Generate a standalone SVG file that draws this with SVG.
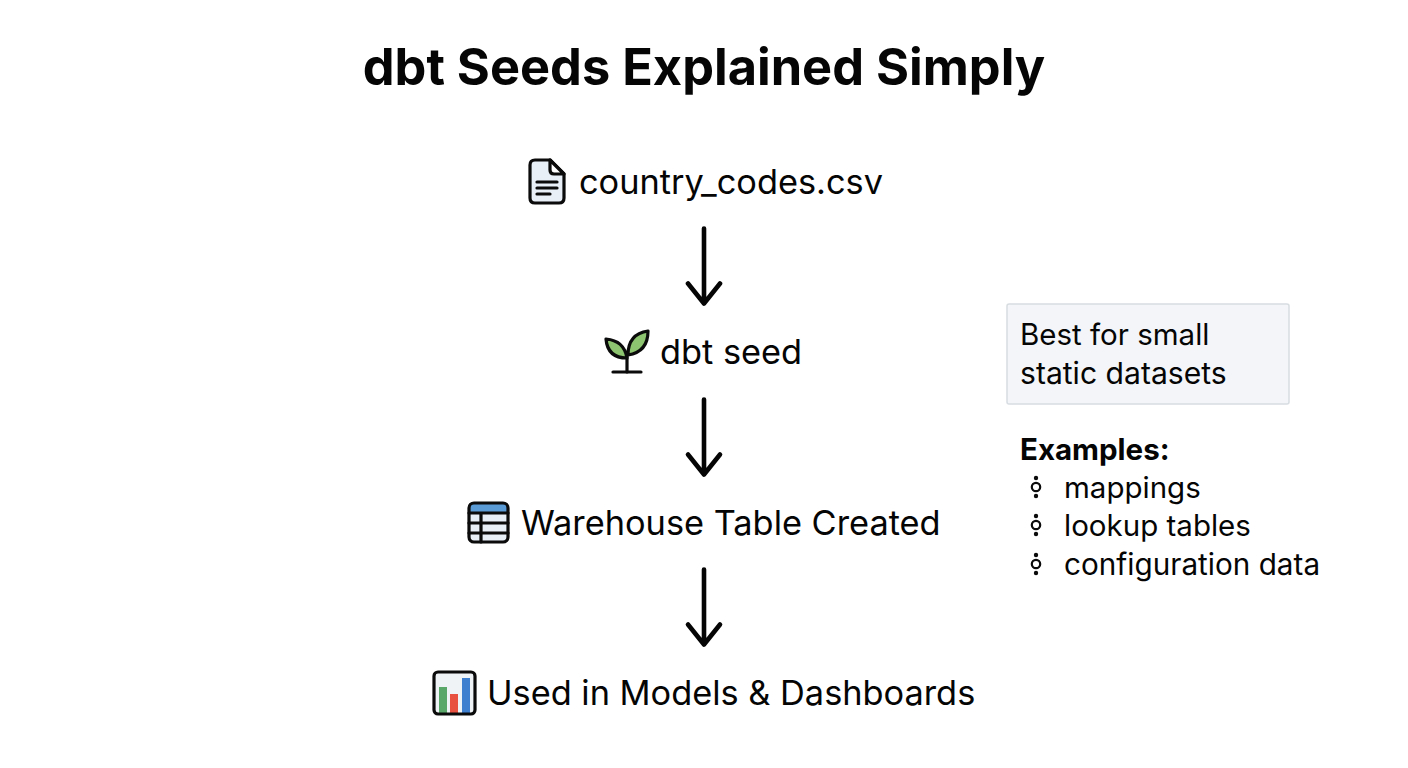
<svg xmlns="http://www.w3.org/2000/svg" width="1408" height="768" viewBox="0 0 1408 768">
<style>
text{font-family:Inter,"Liberation Sans",sans-serif;fill:#050505}
.t{font-size:34.35px}
.s{font-size:29.5px}
.ic{stroke:#0b0b0b;stroke-width:3.2;stroke-linejoin:round;stroke-linecap:round}
.ar{fill:none;stroke:#050505;stroke-width:4.6;stroke-linecap:round;stroke-linejoin:round}
.dot{fill:#0b0b0b}
.ring{fill:none;stroke:#0b0b0b;stroke-width:2.2}
</style>
<defs>
<g id="arrow"><path class="ar" d="M0 0V75M-16 55L0 75L16 55"/></g>
<g id="bul"><circle class="dot" cx="0" cy="-9" r="2.2"/><circle class="ring" cx="0" cy="0" r="4.2"/><circle class="dot" cx="0" cy="9" r="2.2"/></g>
</defs>
<rect width="1408" height="768" fill="#fff"/>
<g id="title"><text x="704" y="85" text-anchor="middle" font-size="50.5" font-weight="700">dbt Seeds Explained Simply</text></g>
<g id="connectors">
<use href="#arrow" x="704" y="228.500"/>
<use href="#arrow" x="704" y="399.500"/>
<use href="#arrow" x="704" y="569.500"/>
</g>
<g id="node-csv">
<path class="ic" fill="#e9eff7" d="M535 160H550L564 174V198Q564 203 559 203H535Q530 203 530 198V165Q530 160 535 160Z"/>
<path class="ic" fill="#fff" d="M550 160V170Q550 174 554 174H564Z"/>
<path class="ic" fill="none" d="M537 182H557M537 188H557M537 194H550" stroke-width="2.4"/>
<text class="t" x="579" y="194">country_codes.csv</text>
</g>
<g id="node-seed">
<path class="ic" fill="none" d="M627 372V352"/>
<path class="ic" fill="none" d="M613 372H641"/>
<path class="ic" fill="#8cc46f" d="M627 358C625 346 618 340 606 339C607 351 614 358 627 358Z"/>
<path class="ic" fill="#8cc46f" d="M628 355C628 342 634 333 648 331C648 345 641 353 628 355Z"/>
<text class="t" x="660" y="364">dbt seed</text>
</g>
<g id="node-table">
<rect x="469" y="503" width="39" height="39" rx="5" fill="#e9eff7"/>
<path fill="#5b9bd5" d="M474 503H503Q508 503 508 508V513H469V508Q469 503 474 503Z"/>
<path class="ic" fill="none" d="M469 513H508M469 523H508M469 533H508M481 513V542"/>
<rect class="ic" x="469" y="503" width="39" height="39" rx="5" fill="none"/>
<text class="t" x="521" y="535">Warehouse Table Created</text>
</g>
<g id="node-chart">
<rect x="434" y="672" width="41" height="42" rx="4" fill="#f0f3f6"/>
<rect x="439" y="687" width="8" height="26" fill="#5aa869"/>
<rect x="450" y="694" width="8" height="19" fill="#e8503f"/>
<rect x="462" y="678" width="8" height="35" fill="#3f7fd0"/>
<rect class="ic" x="434" y="672" width="41" height="42" rx="4" fill="none"/>
<text class="t" x="487" y="705">Used in Models &amp; Dashboards</text>
</g>
<g id="note">
<rect x="1007" y="304" width="282" height="100" rx="2" fill="#f3f5f8" stroke="#d8dde2" stroke-width="1.5"/>
<text class="s" x="1020" y="345">Best for small</text>
<text class="s" x="1020" y="384" style="font-size:30.1px">static datasets</text>
</g>
<g id="examples">
<text class="s" x="1020" y="460" font-weight="700">Examples:</text>
<use href="#bul" x="1036" y="487"/>
<text class="s" x="1064" y="498">mappings</text>
<use href="#bul" x="1036" y="525"/>
<text class="s" x="1064" y="536">lookup tables</text>
<use href="#bul" x="1036" y="564"/>
<text class="s" x="1064" y="575" style="font-size:29.7px">configuration data</text>
</g>
</svg>
